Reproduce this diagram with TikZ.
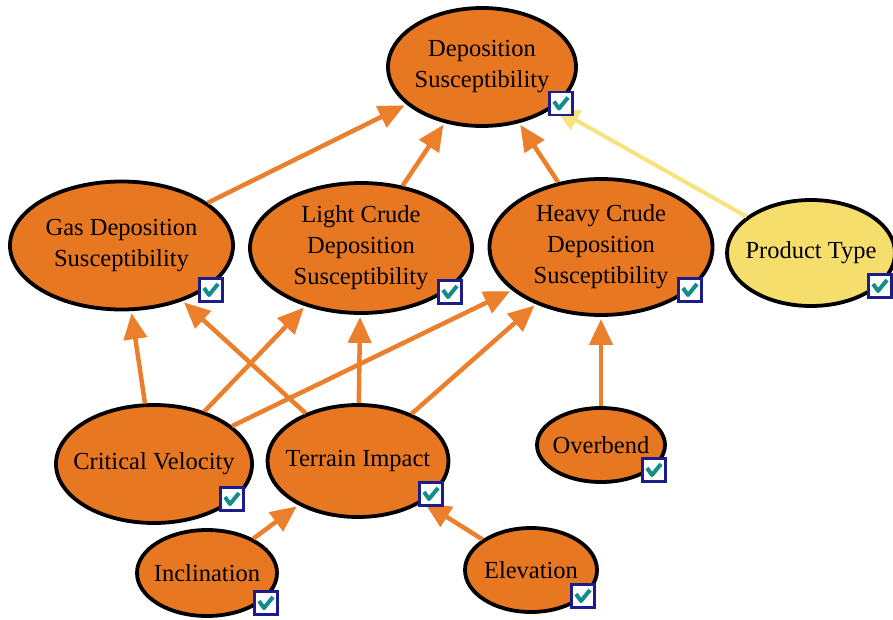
\documentclass[tikz,border=0pt]{standalone}
\usepackage{fontspec}
\setmainfont{Liberation Serif}
\usetikzlibrary{shapes.geometric,arrows.meta}
\definecolor{nodeorange}{HTML}{E87722}
\definecolor{edgeorange}{HTML}{EC7F2C}
\definecolor{nodeyellow}{HTML}{F5DE6C}
\definecolor{edgeyellow}{HTML}{F7E37E}
\definecolor{boxnavy}{HTML}{1C1C8A}
\definecolor{checkteal}{HTML}{138C8C}
\tikzset{
  % negative inner sep keeps the ellipse at its minimum size
  var/.style={ellipse, draw=black, line width=3.8pt, fill=nodeorange, inner sep=-45pt,
    align=center, font=\fontsize{24.5}{31}\selectfont},
  edge/.style={draw=edgeorange, line width=4.5pt, shorten >=2pt,
    -{Triangle[length=26pt,width=23pt]}},
  yedge/.style={draw=edgeyellow, line width=4pt, shorten >=2pt,
    -{Triangle[length=24pt,width=22pt]}},
  chk/.pic={
    \fill[white] (-11.5,-11.5) rectangle (11.5,11.5);
    \draw[boxnavy, line width=2.5pt] (-11.5,-11.5) rectangle (11.5,11.5);
    \draw[checkteal, line width=4pt, line join=round]
      (-7,-2) -- (-2,5) -- (7,-6);
  }
}
\begin{document}
\begin{tikzpicture}[x=1pt,y=-1pt]
\useasboundingbox (0,0) rectangle (893,620);
% variables
\node[var, minimum width=188pt, minimum height=118pt] (dep) at (482,67) {Deposition\\Susceptibility};
\node[var, minimum width=223pt, minimum height=128pt] (gas) at (121.5,245.5) {Gas Deposition\\Susceptibility};
\node[var, minimum width=222pt, minimum height=130pt] (light) at (361,248) {Light Crude\\Deposition\\Susceptibility};
\node[var, minimum width=223pt, minimum height=136pt] (heavy) at (601,247) {Heavy Crude\\Deposition\\Susceptibility};
\node[var, fill=nodeyellow, minimum width=168pt, minimum height=106pt] (prod) at (811,253) {Product Type};
\node[var, minimum width=196pt, minimum height=118pt] (crit) at (154,464) {Critical Velocity};
\node[var, minimum width=181pt, minimum height=112pt] (terr) at (358,461) {Terrain Impact};
\node[var, minimum width=128pt, minimum height=74pt] (over) at (601,445) {Overbend};
\node[var, minimum width=140pt, minimum height=86pt] (incl) at (207,573) {Inclination};
\node[var, minimum width=132pt, minimum height=84pt] (elev) at (531,570) {Elevation};
% influences
\draw[edge] (gas) -- (dep);
\draw[edge] (light) -- (dep);
\draw[edge] (heavy) -- (dep);
\draw[yedge] (prod) -- (dep);
\draw[edge] (crit) -- (gas);
\draw[edge] (crit) -- (light);
\draw[edge] (crit) -- (heavy);
\draw[edge] (terr) -- (gas);
\draw[edge] (terr) -- (light);
\draw[edge] (terr) -- (heavy);
\draw[edge] (over) -- (heavy);
\draw[edge] (incl) -- (terr);
\draw[edge] (elev) -- (terr);
% status boxes
\pic at (561,103.5) {chk};
\pic at (211,290) {chk};
\pic at (450,292) {chk};
\pic at (690,290) {chk};
\pic at (880,286) {chk};
\pic at (232,499) {chk};
\pic at (431,494) {chk};
\pic at (654,470) {chk};
\pic at (266,603) {chk};
\pic at (583,596) {chk};
\end{tikzpicture}
\end{document}
